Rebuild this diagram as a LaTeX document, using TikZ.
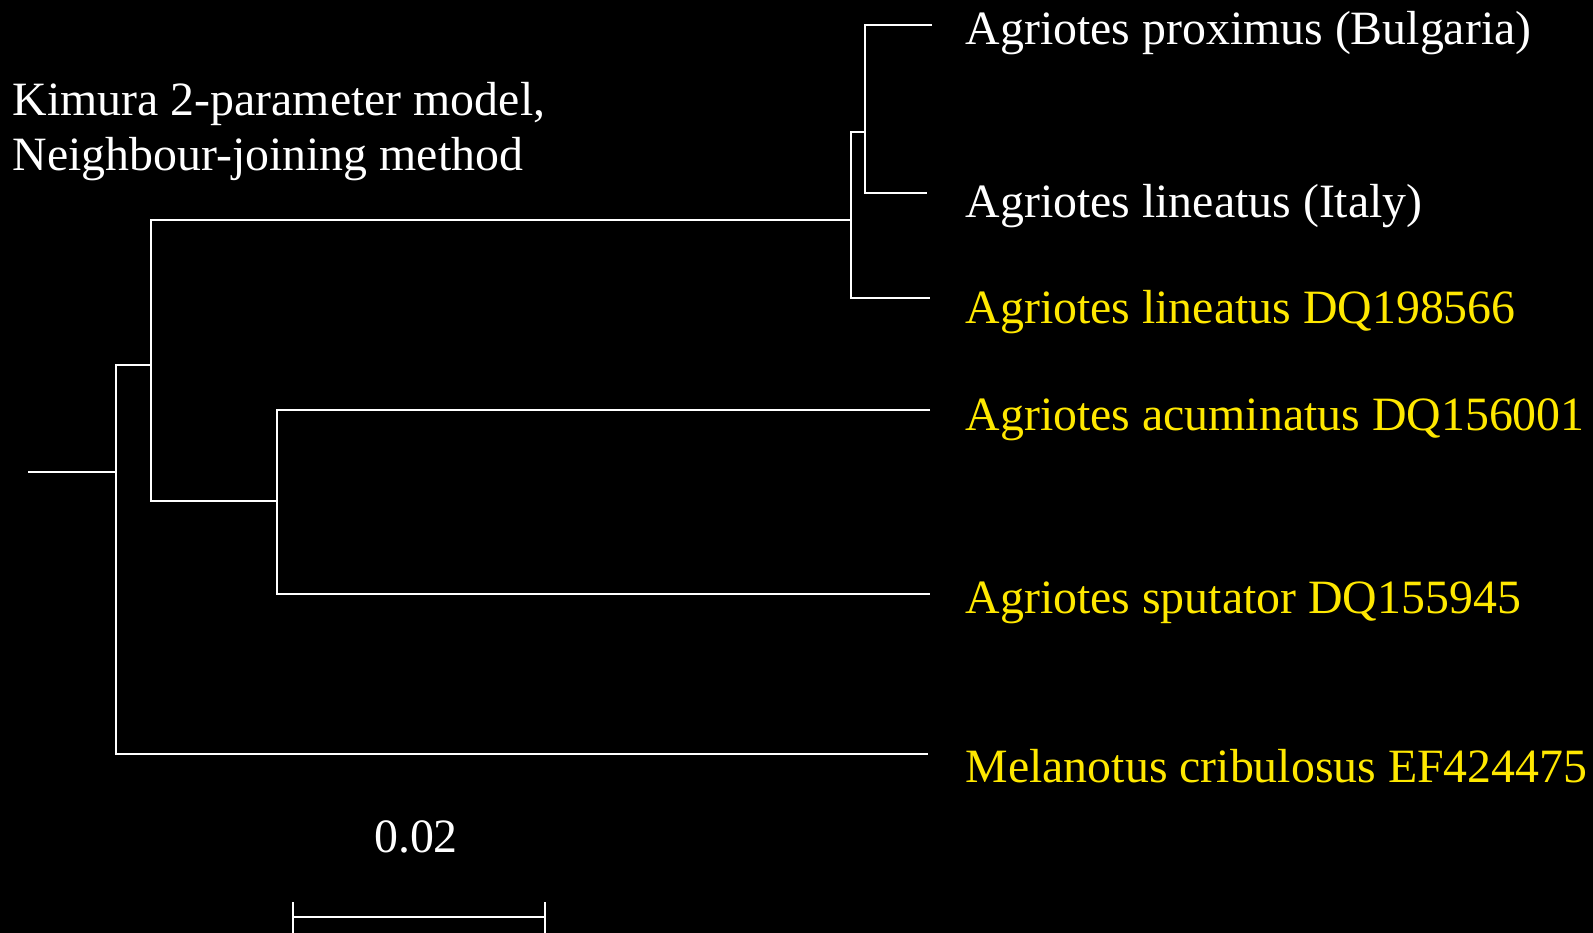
\documentclass[tikz,border=0pt]{standalone}
\usepackage{fontspec}
\setmainfont{Liberation Serif}
\usetikzlibrary{positioning}
\definecolor{leafyellow}{HTML}{FFE800}

\begin{document}
\begin{tikzpicture}[x=0.01cm,y=-0.01cm,
    branch/.style={draw=white,line width=0.6pt},
    taxon/.style={anchor=base west,inner sep=0pt,font=\fontsize{13.6}{16}\selectfont},
    caption/.style={anchor=base west,inner sep=0pt,white,font=\fontsize{13.6}{16}\selectfont}]
        \fill[black] (0,0) rectangle (1593,933);
        \useasboundingbox (0,0) rectangle (1593,933);
        % inner nodes of the tree
        \coordinate (root) at (28,472);
        \coordinate (n1) at (116,472);
        \coordinate (n2) at (151,365);
        \coordinate (n3) at (851,220);
        \coordinate (n4) at (865,132);
        \coordinate (n5) at (277,501);
        % tips
        \coordinate (t1) at (932,25);
        \coordinate (t2) at (927,193);
        \coordinate (t3) at (930,298);
        \coordinate (t4) at (930,410);
        \coordinate (t5) at (930,594);
        \coordinate (t6) at (928,754);
        \draw[branch] (root) -- (n1);
        \draw[branch] (n2) -| (n1) |- (t6);
        \draw[branch] (n3) -| (n2) |- (n5);
        \draw[branch] (t4) -| (n5) |- (t5);
        \draw[branch] (n4) -| (n3) |- (t3);
        \draw[branch] (t1) -| (n4) |- (t2);
        % taxa
        \node[taxon,white] (proximus) at (965,44) {Agriotes proximus (Bulgaria)};
        \node[taxon,white] (italy) at (965,217) {Agriotes lineatus (Italy)};
        \node[taxon,leafyellow] (lineatus) at (965,323) {Agriotes lineatus DQ198566};
        \node[taxon,leafyellow] (acuminatus) at (965,430) {Agriotes acuminatus DQ156001};
        \node[taxon,leafyellow] (sputator) at (965,613) {Agriotes sputator DQ155945};
        \node[taxon,leafyellow] (melanotus) at (965,782) {Melanotus cribulosus EF424475};
        % method
        \node[caption] (model) at (12,115) {Kimura 2-parameter model,};
        \node[caption] (method) at (12,170) {Neighbour-joining method};
        % scale bar
        \coordinate (sbl) at (293,917);
        \coordinate (sbr) at (545,917);
        \draw[branch] (sbl) -- (sbr);
        \draw[branch] (sbl) ++(0,-15) -- ++(0,35);
        \draw[branch] (sbr) ++(0,-15) -- ++(0,35);
        \node[caption,anchor=base] (scale) at (416,852) {0.02};
\end{tikzpicture}
\end{document}
